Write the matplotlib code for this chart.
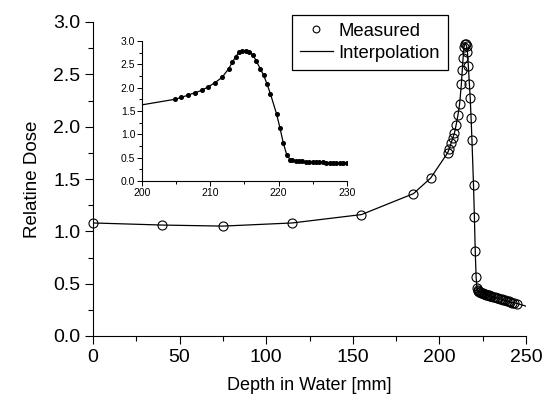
import matplotlib

matplotlib.use("Agg")
import matplotlib.pyplot as plt
from matplotlib.ticker import MultipleLocator, FormatStrFormatter

plt.rcParams["font.family"] = ["Liberation Sans", "DejaVu Sans"]

# measured depth-dose points (depth mm, relative dose)
depth = [0, 40, 75, 115, 155, 185, 195,
         204.75, 205.7, 206.7, 207.7, 208.7, 209.7, 210.7, 211.7,
         212.7, 213.2, 213.7, 214.2, 214.7, 215.2, 215.7, 216.2,
         216.7, 217.3, 217.8, 218.3, 218.8, 219.7, 220.2, 220.7,
         221.2, 221.7,
         222.0, 222.5, 223.0, 223.5, 224.0, 224.5, 225.0, 225.5,
         226.0, 226.5, 227.0, 227.5, 228.0, 228.5, 229.0, 229.5,
         230.0, 231.0, 232.0, 233.0, 234.0, 235.0, 236.0, 237.0,
         238.0, 239.0, 240.0, 241.0, 242.0, 243.0, 245.0]
dose = [1.08, 1.06, 1.05, 1.08, 1.16, 1.36, 1.51,
        1.75, 1.79, 1.84, 1.89, 1.94, 2.02, 2.11, 2.22,
        2.41, 2.54, 2.66, 2.76, 2.79, 2.79, 2.77, 2.71,
        2.58, 2.41, 2.27, 2.08, 1.87, 1.44, 1.14, 0.81,
        0.56, 0.46,
        0.44, 0.43, 0.42, 0.418, 0.415, 0.412, 0.41, 0.405,
        0.40, 0.40, 0.395, 0.393, 0.39, 0.388, 0.385, 0.383,
        0.38, 0.375, 0.37, 0.365, 0.36, 0.355, 0.35, 0.345,
        0.34, 0.335, 0.33, 0.325, 0.32, 0.318, 0.31]

# interpolation curve runs through the points and on to 250 mm
interp_depth = depth + [250]
interp_dose = dose + [0.285]

W, H = 553, 403
fig = plt.figure(figsize=(W / 100, H / 100), dpi=100)
ax = fig.add_axes([93 / W, 1 - 336 / H, 433 / W, 314 / H])

line, = ax.plot(interp_depth, interp_dose, "-", color="black", lw=0.9,
                zorder=2)
pts, = ax.plot(depth, dose, "o", mfc="none", mec="black", ms=6.5, mew=0.8,
               clip_on=False, zorder=3)

ax.set_xlim(0, 250)
ax.set_ylim(0, 3.0)
ax.xaxis.set_major_locator(MultipleLocator(50))
ax.xaxis.set_minor_locator(MultipleLocator(25))
ax.yaxis.set_major_locator(MultipleLocator(0.5))
ax.yaxis.set_minor_locator(MultipleLocator(0.25))
ax.yaxis.set_major_formatter(FormatStrFormatter("%.1f"))
for s in ("top", "right"):
    ax.spines[s].set_visible(False)
ax.tick_params(which="major", direction="out", length=6, width=0.8,
               labelsize=14, pad=3)
ax.tick_params(which="minor", direction="out", length=3.5, width=0.8)
ax.set_xlabel("Depth in Water [mm]", fontsize=13, labelpad=8)
ax.set_ylabel("Relatine Dose", fontsize=13.5, labelpad=9)

# inset: zoom on the Bragg peak
ins = fig.add_axes([142.3 / W, 1 - 181 / H, 204.4 / W, 140 / H])
ins.plot(interp_depth, interp_dose, "-", color="black", lw=0.9)
ins.plot(depth, dose, "o", color="black", ms=2.6)
ins.set_xlim(200, 230)
ins.set_ylim(0, 3.0)
ins.xaxis.set_major_locator(MultipleLocator(10))
ins.xaxis.set_minor_locator(MultipleLocator(5))
ins.yaxis.set_major_locator(MultipleLocator(0.5))
ins.yaxis.set_minor_locator(MultipleLocator(0.25))
ins.yaxis.set_major_formatter(FormatStrFormatter("%.1f"))
for s in ("top", "right"):
    ins.spines[s].set_visible(False)
ins.tick_params(which="major", direction="out", length=3.5, width=0.7,
                labelsize=7.5, pad=1.5)
ins.tick_params(which="minor", direction="out", length=2, width=0.7)

leg = fig.legend([pts, line], ["Measured", "Interpolation"], loc="upper left",
                 bbox_to_anchor=(292 / W, 1 - 15 / H), fontsize=13.3,
                 frameon=True, fancybox=False, framealpha=1,
                 edgecolor="black", handlelength=1.8, handletextpad=0.3,
                 borderpad=0.42, labelspacing=0.28, borderaxespad=0,
                 markerscale=0.75)
leg.get_frame().set_linewidth(0.9)

fig.savefig("out.png", dpi=100)
